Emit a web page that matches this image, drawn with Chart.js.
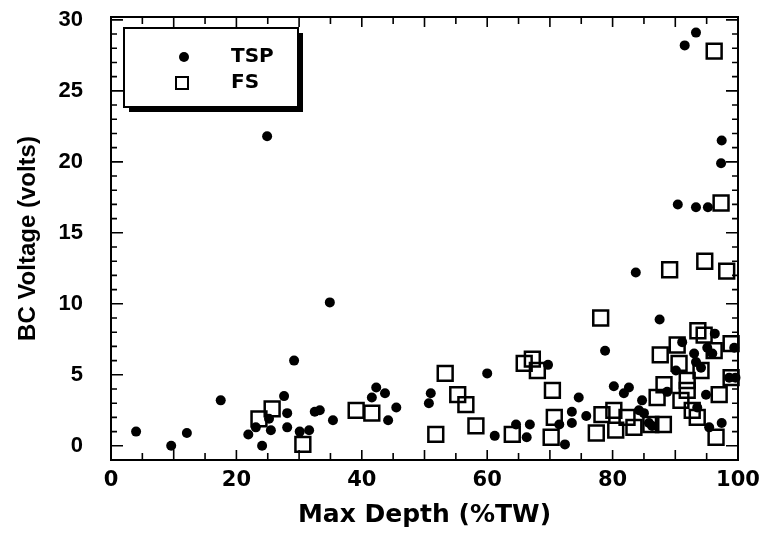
<!DOCTYPE html>
<html>
<head>
<meta charset="utf-8">
<script src="https://cdn.jsdelivr.net/npm/chart.js@4"></script>
<style>
  html, body { margin: 0; padding: 0; background: #fff; }
  #wrap { width: 762px; height: 539px; }
</style>
</head>
<body>
<div id="wrap"><canvas id="myChart"></canvas></div>
<script>
// TSP points (filled circles)
const tspDepth = [4.0, 9.6, 12.1, 17.5, 21.9, 23.1, 24.1, 24.9, 25.2, 25.5, 27.6, 28.1, 28.1, 29.2, 30.1, 31.6, 32.5, 33.3, 34.9, 35.4,
    41.6, 42.3, 43.7, 44.2, 45.5, 50.7, 51.0, 60.0, 61.2, 64.6, 66.3, 66.8, 69.7, 71.5, 72.4, 73.5, 73.5, 74.6, 75.8, 78.8,
    80.2, 81.8, 82.6, 83.7, 84.2, 84.7, 85.0, 85.8, 86.3, 87.5, 88.7, 90.1, 90.4, 91.1, 91.5, 93.0, 93.3, 93.3, 93.3, 93.5,
    94.1, 94.9, 95.1, 95.2, 95.4, 95.9, 96.3, 97.3, 97.4, 97.4, 98.6, 99.4, 99.6];
const tspVolts = [1.0, 0.0, 0.9, 3.2, 0.8, 1.3, 0.0, 21.8, 1.9, 1.1, 3.5, 2.3, 1.3, 6.0, 1.0, 1.1, 2.4, 2.5, 10.1, 1.8,
    3.4, 4.1, 3.7, 1.8, 2.7, 3.0, 3.7, 5.1, 0.7, 1.5, 0.6, 1.5, 5.7, 1.5, 0.1, 2.4, 1.6, 3.4, 2.1, 6.7,
    4.2, 3.7, 4.1, 12.2, 2.5, 3.2, 2.3, 1.6, 1.4, 8.9, 3.8, 5.3, 17.0, 7.3, 28.2, 6.5, 29.1, 16.8, 5.9, 2.7,
    5.5, 3.6, 6.9, 16.8, 1.3, 6.5, 7.9, 19.9, 21.5, 1.6, 4.8, 6.9, 4.8];

// FS points (open squares)
const fsDepth = [23.6, 25.7, 30.6, 39.1, 41.6, 51.8, 53.3, 55.3, 56.6, 58.2, 64.0, 65.9, 67.2, 68.0, 70.2, 70.4, 70.7, 77.4, 78.1, 78.3,
    80.2, 80.5, 82.3, 83.4, 86.1, 87.1, 87.6, 88.1, 88.2, 89.1, 90.3, 90.6, 90.9, 91.9, 91.9, 92.7, 93.5, 93.6, 94.1, 94.6,
    94.7, 96.2, 96.2, 96.5, 97.0, 97.3, 98.2, 98.9, 98.9];
const fsVolts = [1.9, 2.6, 0.1, 2.5, 2.3, 0.8, 5.1, 3.6, 2.9, 1.4, 0.8, 5.8, 6.1, 5.3, 0.6, 3.9, 2.0, 0.9, 9.0, 2.2,
    2.5, 1.1, 2.0, 1.3, 1.5, 3.4, 6.4, 1.5, 4.3, 12.4, 7.1, 5.8, 3.2, 4.6, 3.9, 2.5, 2.0, 8.1, 5.3, 7.8,
    13.0, 27.8, 6.7, 0.6, 3.6, 17.1, 12.3, 7.2, 4.8];

const xTickValues = [0, 20, 40, 60, 80, 100];
const yTickValues = [0, 5, 10, 15, 20, 25, 30];

const toPoints = (xs, ys) => xs.map((x, i) => ({ x: x, y: ys[i] }));

// no extra room for the end labels, the plot box is fixed by layout padding
const noLabelPadding = s => {
    s.paddingTop = 0;
    s.paddingBottom = 0;
    s.paddingLeft = 0;
    s.paddingRight = 0;
};

// frame + inward tick marks on all four sides
const framePlugin = {
    id: 'frame',
    afterDatasetsDraw(chart) {
        const { ctx, chartArea: a, scales } = chart;
        const xs = scales.x, ys = scales.y;
        ctx.save();
        ctx.strokeStyle = '#000';
        ctx.lineWidth = 2;
        ctx.strokeRect(a.left, a.top, a.right - a.left, a.bottom - a.top);
        ctx.lineWidth = 1.6;
        ctx.beginPath();
        for (let v = 0; v <= 100; v += 5) {
            const px = xs.getPixelForValue(v);
            const len = v % 10 === 0 ? 10 : 7;
            ctx.moveTo(px, a.bottom); ctx.lineTo(px, a.bottom - len);
            ctx.moveTo(px, a.top); ctx.lineTo(px, a.top + len);
        }
        for (let v = 0; v <= 30; v += 1) {
            const py = ys.getPixelForValue(v);
            const len = v % 5 === 0 ? 12 : 6;
            ctx.moveTo(a.left, py); ctx.lineTo(a.left + len, py);
            ctx.moveTo(a.right, py); ctx.lineTo(a.right - len, py);
        }
        ctx.stroke();
        ctx.restore();
    }
};

// boxed legend with drop shadow, inside the plot
const boxLegend = {
    id: 'boxLegend',
    afterDraw(chart) {
        const { ctx, chartArea: a } = chart;
        const bx = a.left + 13, by = a.top + 11, bw = 174, bh = 79;
        ctx.save();
        ctx.fillStyle = '#000';
        ctx.fillRect(bx + 5, by + 5, bw, bh);
        ctx.fillStyle = '#fff';
        ctx.fillRect(bx, by, bw, bh);
        ctx.strokeStyle = '#000';
        ctx.lineWidth = 2;
        ctx.strokeRect(bx, by, bw, bh);

        const ds = chart.data.datasets;
        ctx.fillStyle = '#000';
        ctx.beginPath();
        ctx.arc(bx + 60, by + 29, 5, 0, Math.PI * 2);
        ctx.fill();
        ctx.strokeRect(bx + 52, by + 49, 12, 12);

        ctx.font = 'bold 20px "DejaVu Sans"';
        ctx.textBaseline = 'middle';
        ctx.textAlign = 'left';
        ctx.fillText(ds[0].label, bx + 107, by + 29);
        ctx.fillText(ds[1].label, bx + 107, by + 55);
        ctx.restore();
    }
};

const ctx = document.getElementById('myChart').getContext('2d');
const myChart = new Chart(ctx, {
    type: 'scatter',
    data: {
        datasets: [{
            label: 'TSP',
            data: toPoints(tspDepth, tspVolts),
            pointStyle: 'circle',
            pointRadius: 5,
            backgroundColor: '#000',
            borderColor: '#000',
            borderWidth: 0,
            clip: false
        }, {
            label: 'FS',
            data: toPoints(fsDepth, fsVolts),
            pointStyle: 'rect',
            pointRadius: 10.5,
            backgroundColor: 'rgba(255,255,255,0)',
            borderColor: '#000',
            borderWidth: 2.5,
            clip: false
        }]
    },
    options: {
        responsive: true,
        maintainAspectRatio: false,
        animation: false,
        events: [],
        layout: { padding: { top: 17, right: 24, left: 0, bottom: 0 } },
        plugins: {
            legend: { display: false },
            tooltip: { enabled: false }
        },
        scales: {
            x: {
                type: 'linear',
                min: 0,
                max: 100,
                afterBuildTicks: s => { s.ticks = xTickValues.map(v => ({ value: v })); },
                afterFit: s => { s.height = 79; noLabelPadding(s); },
                ticks: {
                    color: '#000',
                    padding: 8,
                    maxRotation: 0,
                    font: { family: '"DejaVu Sans"', size: 21, weight: 'bold' }
                },
                grid: { drawOnChartArea: false, drawTicks: false },
                border: { display: false },
                title: {
                    display: true,
                    text: 'Max Depth (%TW)',
                    color: '#000',
                    padding: { top: 4, bottom: 9 },
                    font: { family: '"DejaVu Sans"', size: 25, weight: 'bold' }
                }
            },
            y: {
                type: 'linear',
                min: -1,
                max: 30.2,
                afterBuildTicks: s => { s.ticks = yTickValues.map(v => ({ value: v })); },
                afterFit: s => { s.width = 111; noLabelPadding(s); },
                ticks: {
                    color: '#000',
                    padding: 28,
                    font: { family: '"Liberation Sans"', size: 22, weight: 'bold' }
                },
                grid: { drawOnChartArea: false, drawTicks: false },
                border: { display: false },
                title: {
                    display: true,
                    text: 'BC Voltage (volts)',
                    color: '#000',
                    padding: { top: 14, bottom: 0 },
                    font: { family: '"Liberation Sans"', size: 24, weight: 'bold' }
                }
            }
        }
    },
    plugins: [framePlugin, boxLegend]
});
</script>
</body>
</html>
